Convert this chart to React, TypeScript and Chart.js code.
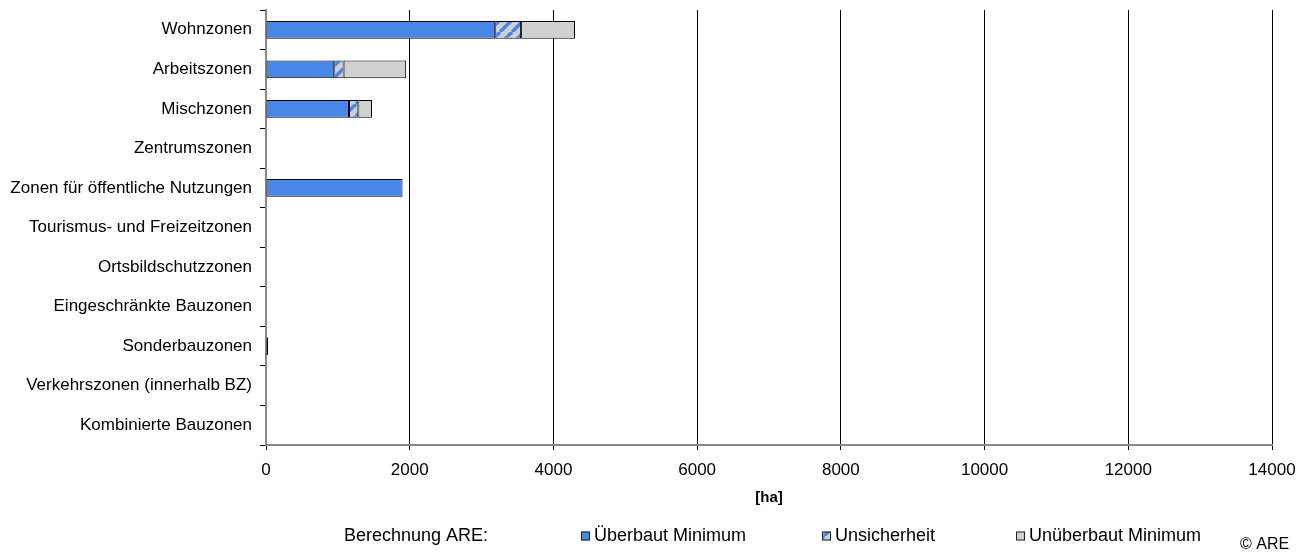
import React, { useEffect, useRef } from "react";
import { Chart, registerables } from "chart.js";

Chart.register(...registerables);

const categories = [
  "Wohnzonen",
  "Arbeitszonen",
  "Mischzonen",
  "Zentrumszonen",
  "Zonen für öffentliche Nutzungen",
  "Tourismus- und Freizeitzonen",
  "Ortsbildschutzzonen",
  "Eingeschränkte Bauzonen",
  "Sonderbauzonen",
  "Verkehrszonen (innerhalb BZ)",
  "Kombinierte Bauzonen",
];
const seriesLabels = ["Überbaut Minimum", "Unsicherheit", "Unüberbaut Minimum"];
const ueberbautMinimum = [3190, 950, 1155, 0, 1900, 0, 0, 0, 30, 0, 0];
const unsicherheit = [360, 130, 130, 0, 0, 0, 0, 0, 0, 0, 0];
const unueberbautMinimum = [750, 870, 190, 0, 0, 0, 0, 0, 0, 0, 0];
const xTicks = [0, 2000, 4000, 6000, 8000, 10000, 12000, 14000];
const axisTitle = "[ha]";
const legendTitle = "Berechnung ARE:";
const copyright = "© ARE";

const FONT = '"Liberation Sans", Arial, sans-serif';
const BLUE = "#4a86e8";
const GRAY = "#d0d0d0";

function makeHatch(): CanvasPattern | string {
  const c = document.createElement("canvas");
  const s = 12;
  c.width = s;
  c.height = s;
  const g = c.getContext("2d");
  if (!g) return GRAY;
  g.fillStyle = GRAY;
  g.fillRect(0, 0, s, s);
  g.strokeStyle = BLUE;
  g.lineWidth = 3.5;
  for (const o of [-s, 0, s]) {
    g.beginPath();
    g.moveTo(o, s);
    g.lineTo(o + s, 0);
    g.stroke();
  }
  const p = g.createPattern(c, "repeat");
  return p || GRAY;
}

const legendPlugin = {
  id: "customLegend",
  afterDraw(chart: any) {
    const ctx = chart.ctx as CanvasRenderingContext2D;
    ctx.save();
    ctx.font = `18px ${FONT}`;
    ctx.textBaseline = "middle";
    ctx.textAlign = "left";
    ctx.fillStyle = "#000";
    const y = 528;
    ctx.fillText(legendTitle, 336, y);
    const boxX = [573, 814, 1008];
    chart.data.datasets.forEach((ds: any, i: number) => {
      ctx.fillStyle = ds.backgroundColor;
      ctx.fillRect(boxX[i], y - 4.5, 9, 9);
      ctx.strokeStyle = "#222";
      ctx.lineWidth = 1;
      ctx.strokeRect(boxX[i] + 0.5, y - 4, 8, 8);
      ctx.fillStyle = "#000";
      ctx.fillText(ds.label, boxX[i] + 13, y);
    });
    ctx.font = `16px ${FONT}`;
    ctx.fillText(copyright, 1232, 537);
    ctx.restore();
  },
};

export default function App() {
  const ref = useRef<HTMLCanvasElement | null>(null);

  useEffect(() => {
    if (!ref.current) return;
    const hatch = makeHatch();
    const common = {
      borderColor: "#000",
      borderWidth: 1,
      borderSkipped: false,
      categoryPercentage: 1,
      barPercentage: 0.45,
    };
    const chart = new Chart(ref.current, {
      type: "bar",
      data: {
        labels: categories,
        datasets: [
          { label: seriesLabels[0], data: ueberbautMinimum, backgroundColor: BLUE, ...common },
          { label: seriesLabels[1], data: unsicherheit, backgroundColor: hatch as any, ...common },
          { label: seriesLabels[2], data: unueberbautMinimum, backgroundColor: GRAY, ...common },
        ],
      },
      options: {
        indexAxis: "y",
        animation: false,
        responsive: true,
        maintainAspectRatio: false,
        layout: { padding: { left: 0, right: 34, top: 2, bottom: 43 } },
        plugins: {
          legend: { display: false },
          tooltip: { enabled: false },
        },
        scales: {
          x: {
            stacked: true,
            min: xTicks[0],
            max: xTicks[xTicks.length - 1],
            afterBuildTicks: (scale: any) => {
              scale.ticks = xTicks.map((v) => ({ value: v }));
            },
            afterFit: (scale: any) => {
              scale.height = 66;
              scale.paddingLeft = 0;
              scale.paddingRight = 0;
            },
            ticks: {
              color: "#000",
              font: { family: FONT, size: 17 },
              padding: 10,
              maxRotation: 0,
              callback: (v: any) => String(v),
            },
            grid: {
              color: "#000",
              lineWidth: 1,
              drawTicks: true,
              tickLength: 5,
            },
            border: { color: "#888", width: 2 },
            title: {
              display: true,
              text: axisTitle,
              color: "#000",
              font: { family: FONT, size: 15, weight: "bold" },
              padding: { top: 0, bottom: 4 },
            },
          },
          y: {
            stacked: true,
            afterFit: (scale: any) => {
              scale.width = 258;
              scale.paddingTop = 0;
              scale.paddingBottom = 0;
            },
            ticks: {
              color: "#000",
              font: { family: FONT, size: 17 },
              padding: 8,
            },
            grid: {
              offset: true,
              drawOnChartArea: false,
              drawTicks: true,
              tickLength: 6,
              color: "#000",
            },
            border: { color: "#888", width: 2 },
          },
        },
      },
      plugins: [legendPlugin],
    } as any);
    return () => chart.destroy();
  }, []);

  return (
    <div style={{ width: 1298, height: 546, position: "relative" }}>
      <canvas ref={ref} />
    </div>
  );
}
